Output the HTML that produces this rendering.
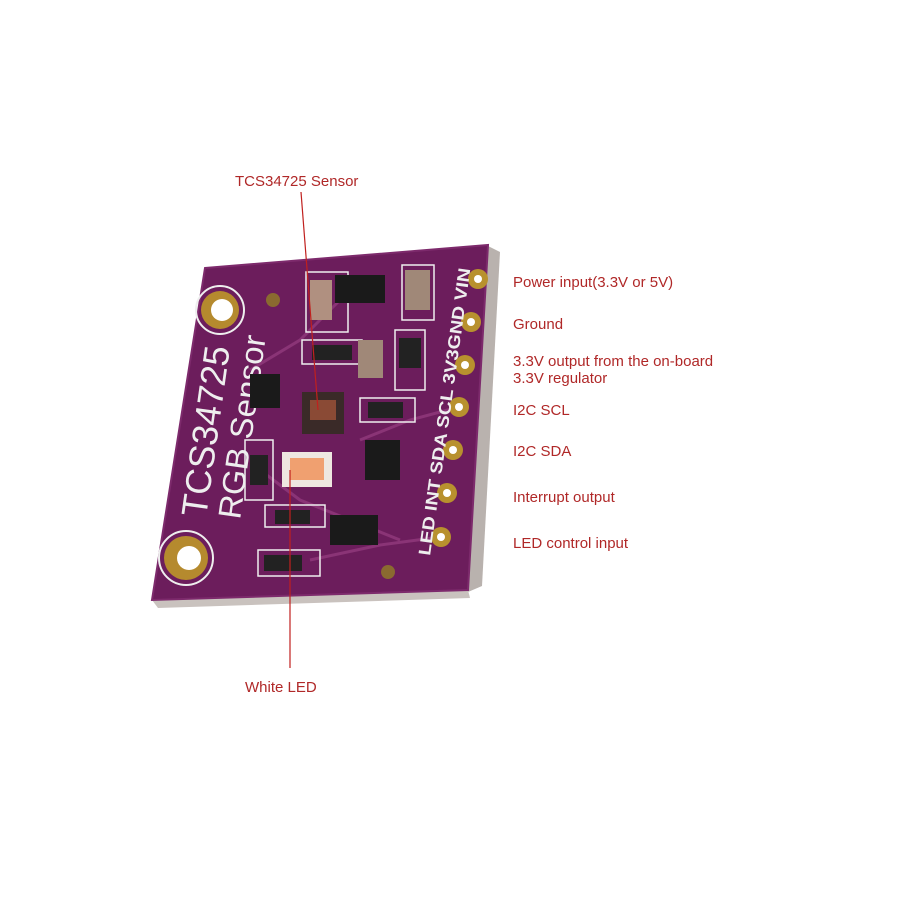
<!DOCTYPE html>
<html><head><meta charset="utf-8"><style>
html,body{margin:0;padding:0;background:#fff;}
svg{display:block}
text{font-family:"Liberation Sans",sans-serif;}
</style></head><body>
<svg width="900" height="900" viewBox="0 0 900 900" xmlns="http://www.w3.org/2000/svg">
<rect width="900" height="900" fill="#fff"/>
<polygon points="488,246 500,252 482,586 468,592" fill="#b9b2ae"/>
<polygon points="152,600 468,590 470,598 158,608" fill="#c9c2be"/>
<polygon points="205,268 488,245 468,590 152,600" fill="#6c1d5c"/>
<polygon points="205,268 488,245 468,590 152,600" fill="none" stroke="#7d2a6c" stroke-width="2"/>
<g stroke="#8a3476" stroke-width="3" fill="none">
<path d="M250,370 L300,340 L340,300"/>
<path d="M260,470 L300,500 L350,520 L400,540"/>
<path d="M360,440 L410,420 L455,408"/>
<path d="M310,560 L380,545 L440,537"/>
</g>
<circle cx="220" cy="310" r="24" fill="none" stroke="#eee" stroke-width="2"/>
<circle cx="220" cy="310" r="19" fill="#b58a2e"/>
<circle cx="222" cy="310" r="11" fill="#fff"/>
<circle cx="186" cy="558" r="27" fill="none" stroke="#eee" stroke-width="2"/>
<circle cx="186" cy="558" r="22" fill="#b58a2e"/>
<circle cx="189" cy="558" r="12" fill="#fff"/>
<circle cx="273" cy="300" r="7" fill="#8a6a30"/>
<circle cx="388" cy="572" r="7" fill="#8a6a30"/>
<g fill="#b8912e">
<circle cx="478" cy="279" r="10"/><circle cx="471" cy="322" r="10"/><circle cx="465" cy="365" r="10"/>
<circle cx="459" cy="407" r="10"/><circle cx="453" cy="450" r="10"/><circle cx="447" cy="493" r="10"/><circle cx="441" cy="537" r="10"/>
</g>
<g fill="#fff">
<circle cx="478" cy="279" r="4"/><circle cx="471" cy="322" r="4"/><circle cx="465" cy="365" r="4"/>
<circle cx="459" cy="407" r="4"/><circle cx="453" cy="450" r="4"/><circle cx="447" cy="493" r="4"/><circle cx="441" cy="537" r="4"/>
</g>
<text transform="translate(206,518) rotate(-82)" font-size="36" fill="#eee" textLength="172" lengthAdjust="spacingAndGlyphs">TCS34725</text>
<text transform="translate(240,520) rotate(-82)" font-size="32" fill="#eee" textLength="185" lengthAdjust="spacingAndGlyphs">RGB Sensor</text>
<text transform="translate(430,556) rotate(-82)" font-size="17" font-weight="bold" fill="#eee" textLength="290" lengthAdjust="spacingAndGlyphs">LED INT SDA SCL 3V3GND VIN</text>
<g stroke="#eee" stroke-width="1.5" fill="none">
<rect x="306" y="272" width="42" height="60"/>
<rect x="302" y="340" width="60" height="24"/>
<rect x="395" y="330" width="30" height="60"/>
<rect x="360" y="398" width="55" height="24"/>
<rect x="245" y="440" width="28" height="60"/>
<rect x="265" y="505" width="60" height="22"/>
<rect x="258" y="550" width="62" height="26"/>
<rect x="402" y="265" width="32" height="55"/>
</g>
<rect x="335" y="275" width="50" height="28" fill="#1a1a1a"/>
<rect x="310" y="280" width="22" height="40" fill="#b09080"/>
<rect x="405" y="270" width="25" height="40" fill="#a08878"/>
<rect x="312" y="345" width="40" height="15" fill="#222"/>
<rect x="358" y="340" width="25" height="38" fill="#a08878"/>
<rect x="399" y="338" width="22" height="30" fill="#222"/>
<rect x="368" y="402" width="35" height="16" fill="#222"/>
<rect x="250" y="374" width="30" height="34" fill="#1a1a1a"/>
<rect x="302" y="392" width="42" height="42" fill="#3a2a28"/>
<rect x="310" y="400" width="26" height="20" fill="#8a4a35"/>
<rect x="282" y="452" width="50" height="35" fill="#eee7e0"/>
<rect x="290" y="458" width="34" height="22" fill="#f0a070"/>
<rect x="250" y="455" width="18" height="30" fill="#222"/>
<rect x="365" y="440" width="35" height="40" fill="#1a1a1a"/>
<rect x="275" y="510" width="35" height="14" fill="#222"/>
<rect x="330" y="515" width="48" height="30" fill="#1a1a1a"/>
<rect x="264" y="555" width="38" height="16" fill="#222"/>
<line x1="301" y1="192" x2="318" y2="410" stroke="#c0201e" stroke-width="1.2"/>
<line x1="290" y1="470" x2="290" y2="668" stroke="#c0201e" stroke-width="1.2"/>
<g fill="#b02828" font-size="15">
<text x="235" y="186">TCS34725 Sensor</text>
<text x="245" y="692">White LED</text>
<text x="513" y="287">Power input(3.3V or 5V)</text>
<text x="513" y="329">Ground</text>
<text x="513" y="366">3.3V output from the on-board</text>
<text x="513" y="383">3.3V regulator</text>
<text x="513" y="415">I2C SCL</text>
<text x="513" y="456">I2C SDA</text>
<text x="513" y="502">Interrupt output</text>
<text x="513" y="548">LED control input</text>
</g>
</svg>
</body></html>
